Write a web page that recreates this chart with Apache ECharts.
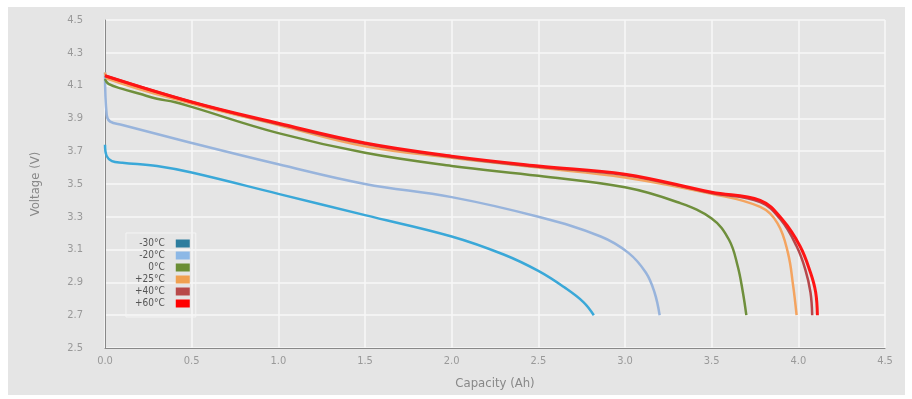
<!DOCTYPE html>
<html>
<head>
<meta charset="utf-8">
<script src="https://cdn.jsdelivr.net/npm/echarts@6/dist/echarts.min.js"></script>
<style>
  html, body { margin: 0; padding: 0; background: #fff; }
  #chart { position: absolute; left: 8px; top: 7px; width: 897px; height: 388px; }
</style>
</head>
<body>
<div id="chart"></div>
<script>
// capacity (Ah), voltage (V) pairs
const tempNames = ['-30°C', '-20°C', '0°C', '+25°C', '+40°C', '+60°C'];
const xTicks = [0, 0.5, 1.0, 1.5, 2.0, 2.5, 3.0, 3.5, 4.0, 4.5];
const yTicks = [2.5, 2.7, 2.9, 3.1, 3.3, 3.5, 3.7, 3.9, 4.1, 4.3, 4.5];

const m30 = [[0, 3.74], [0.01, 3.67], [0.04, 3.64], [0.1, 3.63], [0.3, 3.61], [0.5, 3.57], [1.0, 3.44],
  [1.5, 3.31], [2.0, 3.18], [2.3, 3.07], [2.5, 2.97], [2.65, 2.87], [2.76, 2.78], [2.82, 2.70]];
const m20 = [[0, 4.18], [0.01, 3.92], [0.03, 3.88], [0.1, 3.86], [0.5, 3.75], [1.0, 3.62],
  [1.5, 3.50], [2.0, 3.42], [2.5, 3.30], [2.86, 3.18], [3.02, 3.08], [3.12, 2.96], [3.17, 2.84], [3.2, 2.70]];
const zero = [[0, 4.14], [0.02, 4.11], [0.1, 4.08], [0.2, 4.05], [0.3, 4.02], [0.4, 4.0], [0.5, 3.97],
  [1.0, 3.81], [1.5, 3.69], [2.0, 3.61], [2.5, 3.55], [3.0, 3.48], [3.3, 3.39], [3.5, 3.29],
  [3.6, 3.16], [3.65, 3.00], [3.68, 2.84], [3.70, 2.70]];
const p25 = [[0, 4.18], [0.02, 4.14], [0.5, 3.99], [1.0, 3.86], [1.5, 3.73], [2.0, 3.66], [2.5, 3.60], [3.0, 3.54],
  [3.5, 3.44], [3.78, 3.36], [3.88, 3.26], [3.94, 3.08], [3.97, 2.88], [3.99, 2.70]];
const p40 = [[0, 4.16], [0.5, 4.0], [1.0, 3.865], [1.5, 3.745], [2.0, 3.665], [2.5, 3.605], [3.0, 3.555], [3.5, 3.445],
  [3.78, 3.39], [3.9, 3.28], [3.99, 3.12], [4.04, 2.98], [4.07, 2.84], [4.08, 2.70]];
const p60 = [[0, 4.16], [0.5, 4.0], [1.0, 3.87], [1.5, 3.75], [2.0, 3.67], [2.5, 3.61],
  [3.0, 3.56], [3.5, 3.45], [3.78, 3.40], [3.91, 3.28], [4.01, 3.12], [4.07, 2.96], [4.10, 2.84], [4.11, 2.70]];
const curves = [m30, m20, zero, p25, p40, p60];

const lineColors = ['#3aa8d8', '#98b4dc', '#6f8f3c', '#f4a460', '#b5474b', '#ff1414'];
const iconColors = ['#2d7d9e', '#8cb8e6', '#6b8e35', '#f0a050', '#b84a4a', '#ff0000'];

const font = '"Liberation Sans Narrow", "DejaVu Sans Condensed", sans-serif';
const chart = echarts.init(document.getElementById('chart'));

chart.setOption({
  animation: false,
  backgroundColor: '#e5e5e5',
  grid: {left: 97, right: 20, top: 13, bottom: 41},
  legend: {
    orient: 'vertical',
    left: 118,
    top: 226,
    align: 'right',
    icon: 'rect',
    itemWidth: 14,
    itemHeight: 8,
    itemGap: 1,
    borderColor: '#f4f4f4',
    borderWidth: 1,
    padding: [5, 6, 8, 9],
    textStyle: {color: '#555', fontSize: 10, lineHeight: 11, fontFamily: font, padding: [0, 6, 0, 0]},
    data: tempNames.map((n, i) => ({name: n, itemStyle: {color: iconColors[i]}}))
  },
  xAxis: {
    type: 'value',
    min: 0,
    max: 4.5,
    interval: 0.5,
    name: 'Capacity (Ah)',
    nameLocation: 'middle',
    nameGap: 29,
    nameTextStyle: {color: '#888', fontSize: 13, fontFamily: font},
    axisLine: {show: true, lineStyle: {color: '#888'}},
    axisTick: {show: false},
    axisLabel: {
      color: '#999', fontSize: 11, fontFamily: font, margin: 8,
      formatter: v => xTicks.includes(v) ? v.toFixed(1) : ''
    },
    splitLine: {show: true, lineStyle: {color: '#f7f7f7', width: 1.5}}
  },
  yAxis: {
    type: 'value',
    min: 2.5,
    max: 4.5,
    interval: 0.2,
    name: 'Voltage (V)',
    nameLocation: 'middle',
    nameGap: 63,
    nameTextStyle: {color: '#888', fontSize: 13, fontFamily: font},
    axisLine: {show: true, lineStyle: {color: '#888'}},
    axisTick: {show: false},
    axisLabel: {
      color: '#999', fontSize: 11, fontFamily: font, margin: 22,
      formatter: v => {
        const t = yTicks.find(y => Math.abs(y - v) < 1e-6);
        return t === undefined ? '' : t.toFixed(1);
      }
    },
    splitLine: {show: true, lineStyle: {color: '#f7f7f7', width: 1.5}}
  },
  series: curves.map((d, i) => ({
    name: tempNames[i],
    type: 'line',
    data: d,
    smooth: 0.4,
    showSymbol: false,
    itemStyle: {color: iconColors[i]},
    lineStyle: {color: lineColors[i], width: i === 5 ? 3 : 2.5}
  }))
});
</script>
</body>
</html>
